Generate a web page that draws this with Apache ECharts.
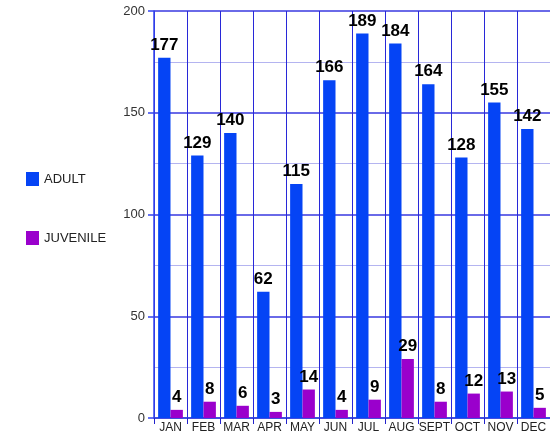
<!DOCTYPE html>
<html><head><meta charset="utf-8">
<script src="https://cdn.jsdelivr.net/npm/echarts@6/dist/echarts.min.js"></script>
<style>html,body{margin:0;padding:0;background:#fff}#c{width:550px;height:435px}</style>
</head><body><div id="c"></div>
<script>
const months = ['JAN','FEB','MAR','APR','MAY','JUN','JUL','AUG','SEPT','OCT','NOV','DEC'];
const adult = [177,129,140,62,115,166,189,184,164,128,155,142];
const juvenile = [4,8,6,3,14,4,9,29,8,12,13,5];
const chart = echarts.init(document.getElementById('c'));
const lbl = {show:true, position:'top', distance:4, color:'#000', fontWeight:'bold', fontSize:17, fontFamily:'Liberation Sans Narrow, Arial Narrow, Liberation Sans, Arial, sans-serif'};
chart.setOption({
  animation:false,
  backgroundColor:'#fff',
  legend:{orient:'vertical', left:21, top:167, itemGap:45, itemWidth:13, itemHeight:14, icon:'rect',
    textStyle:{fontSize:13, color:'#222', fontFamily:'Liberation Sans, Arial, sans-serif'}, data:['ADULT','JUVENILE']},
  grid:{left:154, right:-7, top:11, bottom:17, containLabel:false},
  xAxis:{type:'category', data:months,
    axisLine:{show:true, lineStyle:{color:'#3344dd', width:1.5}},
    axisTick:{show:true, interval:0, length:6, lineStyle:{color:'#2222cc'}},
    axisLabel:{interval:0, color:'#222', fontSize:12, margin:4, fontFamily:'Liberation Sans, Arial, sans-serif'},
    splitLine:{show:true, interval:0, lineStyle:{color:'#2828d8', width:1}}},
  yAxis:{type:'value', min:0, max:200, interval:50,
    axisLine:{show:true, lineStyle:{color:'#3344ee', width:1.5}},
    axisTick:{show:true, length:6, lineStyle:{color:'#3344ee', width:1.5}},
    axisLabel:{color:'#333', fontSize:13, margin:9, fontFamily:'Liberation Sans, Arial, sans-serif'},
    splitLine:{show:true, lineStyle:{color:'#6a6ae8', width:2}},
    minorTick:{show:false, splitNumber:2},
    minorSplitLine:{show:true, lineStyle:{color:'#b4b4f0', width:1}}},
  series:[
    {name:'ADULT', type:'bar', data:adult, barGap:'0%', barCategoryGap:'25%', itemStyle:{color:'#0544f5'}, label:lbl},
    {name:'JUVENILE', type:'bar', data:juvenile, itemStyle:{color:'#9a00cc'}, label:lbl}
  ]
});
</script></body></html>
